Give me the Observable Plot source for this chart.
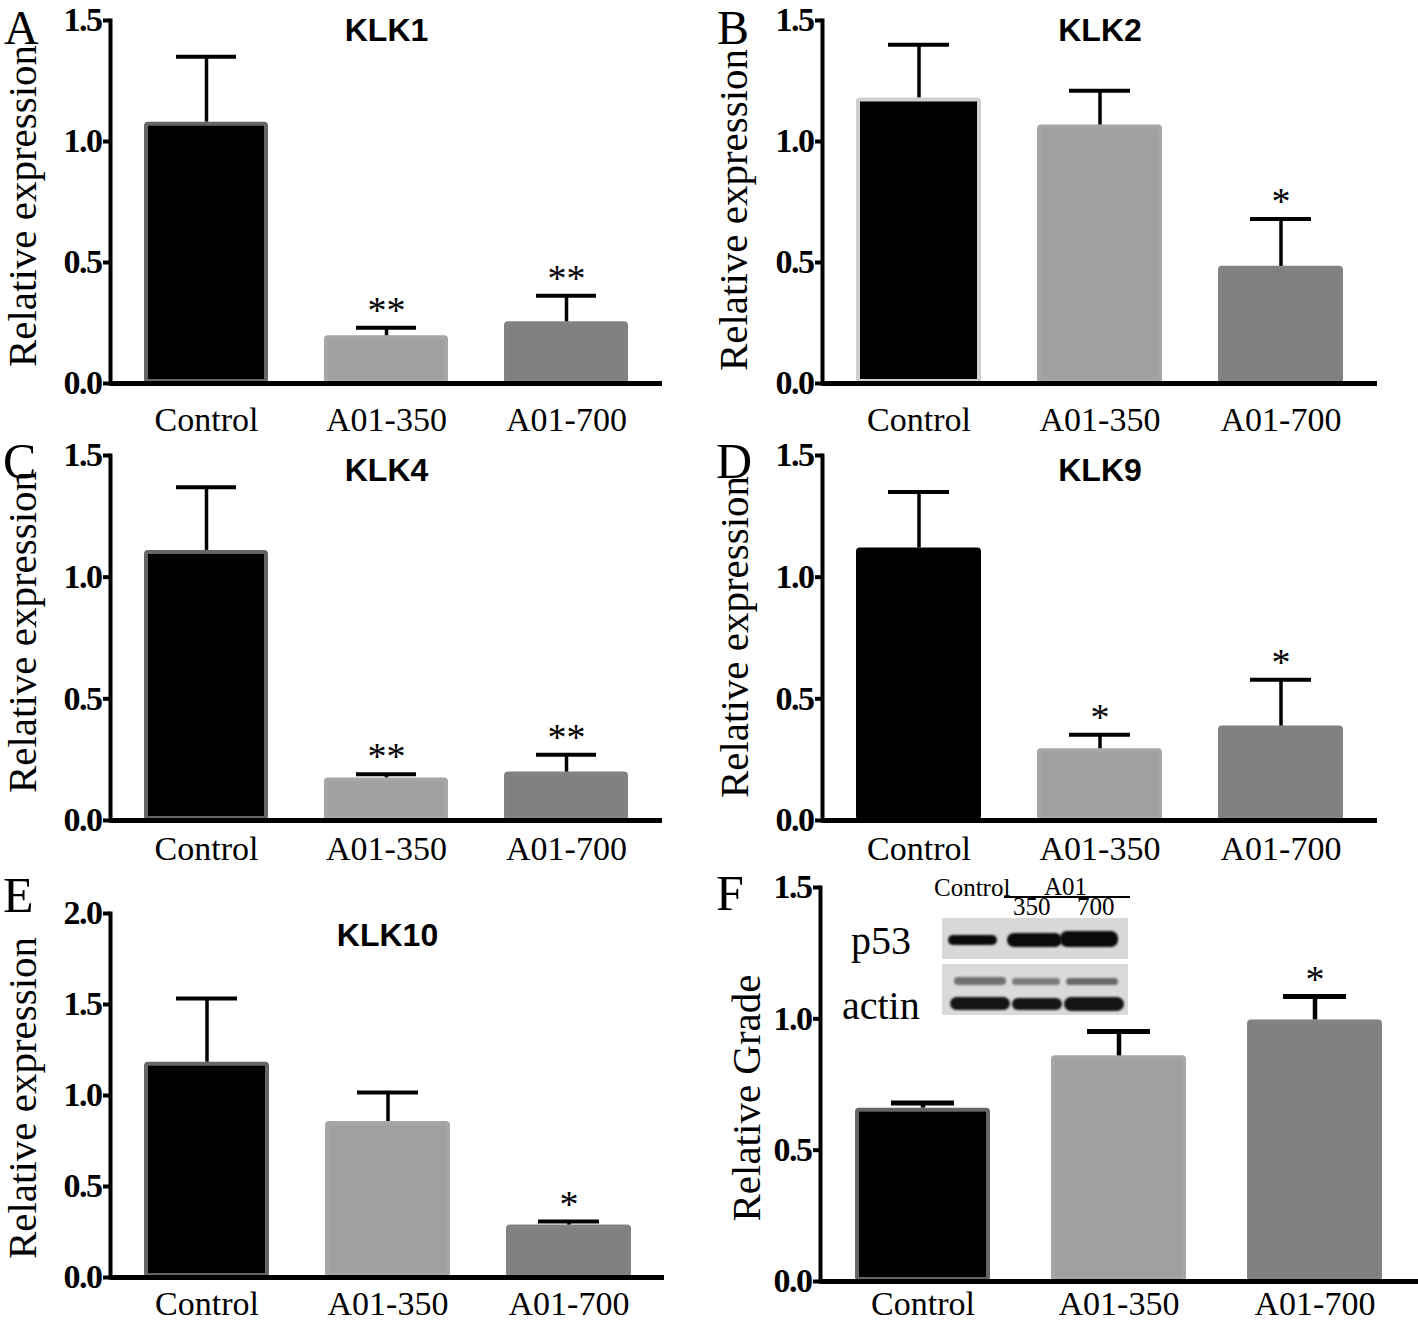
<!DOCTYPE html>
<html>
<head>
<meta charset="utf-8">
<script src="https://cdn.jsdelivr.net/npm/d3@7"></script>
<script src="https://cdn.jsdelivr.net/npm/@observablehq/plot@0.6"></script>
<style>
  body { margin: 0; background: #fff; }
  #fig { position: relative; width: 1418px; height: 1325px; overflow: hidden; background: #fff; }
  .panel { position: absolute; width: 709px; }
  .panel svg { overflow: visible; }
  .panel g[aria-label="y-axis tick label"] text { letter-spacing: -1.5px; }
  .lbl { position: absolute; font-family: "Liberation Serif", serif; line-height: 1; white-space: nowrap; color: #000; }
  .ylab { position: absolute; font-family: "Liberation Serif", serif; line-height: 1; white-space: nowrap; color: #000;
          writing-mode: vertical-rl; transform: translate(-50%, -50%) rotate(180deg); }
  .box { position: absolute; }
  .band { position: absolute; border-radius: 7px; filter: blur(1.2px); }
</style>
</head>
<body>
<div id="fig"></div>
<script>
// ---------- data ----------
const categories = ["Control", "A01-350", "A01-700"];
const yTicks15 = [0, 0.5, 1.0, 1.5];
const yTicks20 = [0, 0.5, 1.0, 1.5, 2.0];

const klk1Mean = [1.08, 0.197, 0.255];
const klk1Err  = [0.27, 0.033, 0.108];
const klk1Sig  = ["", "**", "**"];

const klk2Mean = [1.18, 1.068, 0.484];
const klk2Err  = [0.22, 0.142, 0.196];
const klk2Sig  = ["", "", "*"];

const klk4Mean = [1.11, 0.175, 0.199];
const klk4Err  = [0.26, 0.015, 0.071];
const klk4Sig  = ["", "**", "**"];

const klk9Mean = [1.12, 0.295, 0.388];
const klk9Err  = [0.23, 0.057, 0.19];
const klk9Sig  = ["", "*", "*"];

const klk10Mean = [1.183, 0.857, 0.288];
const klk10Err  = [0.35, 0.16, 0.02];
const klk10Sig  = ["", "", "*"];

const p53Mean = [0.66, 0.859, 0.996];
const p53Err  = [0.02, 0.093, 0.089];
const p53Sig  = ["", "", "*"];

// ---------- styles ----------
const barFills = ["#000000", "#a0a0a0", "#808080"];
const barStrokes = ["#666666", "#a6a6a6", "#828282"];

const fig = document.getElementById("fig");

function panel(o) {
  const data = categories.map((c, i) => ({
    cat: c, mean: o.mean[i], err: o.err[i], sig: o.sig[i],
    fill: barFills[i], stroke: i === 0 ? o.outline : barStrokes[i]
  }));
  const chart = Plot.plot({
    width: 709, height: o.height,
    marginLeft: o.ml, marginRight: o.mr, marginTop: o.mt, marginBottom: o.mb,
    style: { fontFamily: "Liberation Serif, serif", background: "transparent", overflow: "visible", color: "#000" },
    x: { domain: categories, paddingInner: 0.31, paddingOuter: 0.18, label: null },
    y: { domain: [0, o.ymax], label: null },
    color: { type: "identity" },
    marks: [
      Plot.barY(data, { x: "cat", y: "mean", fill: "fill", stroke: "stroke", strokeWidth: 4, inset: 2, rx: 2 }),
      Plot.ruleX(data, { x: "cat", y1: "mean", y2: d => d.mean + d.err, stroke: "#000", strokeWidth: o.ew }),
      Plot.tickY(data, { x: "cat", y: d => d.mean + d.err, stroke: "#000", strokeWidth: o.ew + 0.5, insetLeft: o.capInset, insetRight: o.capInset }),
      Plot.text(data, { x: "cat", y: d => d.mean + d.err, text: "sig", dy: -17, fontSize: 38, fontFamily: "Liberation Serif, serif" }),
      Plot.ruleY([0], { stroke: "#000", strokeWidth: 5 }),
      Plot.frame({ anchor: "left", stroke: "#000", strokeWidth: 4 }),
      Plot.axisY({ ticks: o.ticks, tickFormat: d3.format(".1f"), tickSize: 7, tickPadding: 2, strokeWidth: 4,
                   fontSize: 34, fontWeight: "bold", label: null }),
      Plot.axisX({ tickSize: 0, tickPadding: o.xpad, fontSize: 34, label: null }),
      Plot.text([o.title], { frameAnchor: "top", dy: o.titleDy, fontSize: 32, fontWeight: "bold",
                             fontFamily: "Liberation Sans, Arial, sans-serif" })
    ]
  });
  const div = document.createElement("div");
  div.className = "panel";
  div.style.left = o.left + "px";
  div.style.top = o.top + "px";
  div.appendChild(chart);
  fig.appendChild(div);

  const yl = document.createElement("div");
  yl.className = "ylab";
  yl.textContent = o.ylabel;
  yl.style.left = o.ylx + "px";
  yl.style.top = o.yly + "px";
  yl.style.fontSize = "41px";
  fig.appendChild(yl);
}

function label(text, left, baseline, size, extra) {
  const s = document.createElement("div");
  s.className = "lbl";
  s.textContent = text;
  s.style.left = left + "px";
  s.style.top = (baseline - 0.8375 * size) + "px";
  s.style.fontSize = size + "px";
  if (extra) Object.assign(s.style, extra);
  fig.appendChild(s);
  return s;
}

const RE = "Relative expression";

panel({ left: 0,   top: 0,   height: 440, ml: 110, mr: 47, mt: 20, mb: 57, ymax: 1.5, ticks: yTicks15,
        mean: klk1Mean, err: klk1Err, sig: klk1Sig, outline: "#666666", title: "KLK1", titleDy: -2,
        ylabel: RE, ylx: 22, yly: 206, xpad: 23, ew: 3.5, capInset: 32 });
panel({ left: 709, top: 0,   height: 440, ml: 113, mr: 41, mt: 20, mb: 57, ymax: 1.5, ticks: yTicks15,
        mean: klk2Mean, err: klk2Err, sig: klk2Sig, outline: "#d0d0d0", title: "KLK2", titleDy: -2,
        ylabel: RE, ylx: 733, yly: 210, xpad: 23, ew: 3.5, capInset: 32 });
panel({ left: 0,   top: 440, height: 430, ml: 110, mr: 47, mt: 15, mb: 50, ymax: 1.5, ticks: yTicks15,
        mean: klk4Mean, err: klk4Err, sig: klk4Sig, outline: "#666666", title: "KLK4", titleDy: 3,
        ylabel: RE, ylx: 22, yly: 632, xpad: 15, ew: 3.5, capInset: 32 });
panel({ left: 709, top: 440, height: 430, ml: 113, mr: 41, mt: 15, mb: 50, ymax: 1.5, ticks: yTicks15,
        mean: klk9Mean, err: klk9Err, sig: klk9Sig, outline: "#000000", title: "KLK9", titleDy: 3,
        ylabel: RE, ylx: 734, yly: 637, xpad: 15, ew: 3.5, capInset: 32 });
panel({ left: 0,   top: 870, height: 455, ml: 110, mr: 45, mt: 43, mb: 48, ymax: 2.0, ticks: yTicks20,
        mean: klk10Mean, err: klk10Err, sig: klk10Sig, outline: "#666666", title: "KLK10", titleDy: 10,
        ylabel: RE, ylx: 22, yly: 1098, xpad: 13, ew: 3.5, capInset: 32 });
panel({ left: 709, top: 870, height: 455, ml: 111, mr: 0,  mt: 17, mb: 44, ymax: 1.5, ticks: yTicks15,
        mean: p53Mean, err: p53Err, sig: p53Sig, outline: "#666666", title: "", titleDy: 0,
        ylabel: "Relative Grade", ylx: 746, yly: 1098, xpad: 9, ew: 4.5, capInset: 36 });

// ---------- panel letters ----------
label("A", 4, 44, 48);
label("B", 717, 44, 48);
label("C", 3, 478, 50);
label("D", 716, 478, 50);
label("E", 3, 912, 50);
label("F", 716, 910, 50);

// ---------- western blot inset (panel F) ----------
label("Control", 934, 896, 25);
label("A01", 1044, 895, 25);
const rule = document.createElement("div");
rule.className = "box";
Object.assign(rule.style, { left: "1004px", top: "896px", width: "126px", height: "2px", background: "#000" });
fig.appendChild(rule);
label("350", 1013, 915, 25);
label("700", 1077, 915, 25);
label("p53", 851, 954, 40);
label("actin", 842, 1019, 40);

function box(l, t, w, h, bg) {
  const b = document.createElement("div");
  b.className = "box";
  Object.assign(b.style, { left: l + "px", top: t + "px", width: w + "px", height: h + "px", background: bg, overflow: "hidden" });
  fig.appendChild(b);
  return b;
}
function band(parent, l, t, w, h, color) {
  const b = document.createElement("div");
  b.className = "band";
  Object.assign(b.style, { left: l + "px", top: t + "px", width: w + "px", height: h + "px", background: color });
  parent.appendChild(b);
}
const p53Box = box(942, 918, 186, 41, "#d8d8d8");
band(p53Box, 6, 17, 49, 10, "#0a0a0a");
band(p53Box, 65, 15, 55, 14, "#0a0a0a");
band(p53Box, 118, 13, 58, 16, "#0a0a0a");
const actinBox = box(942, 964, 186, 51, "#dadada");
band(actinBox, 12, 13, 52, 8, "#707070");
band(actinBox, 70, 14, 48, 7, "#7a7a7a");
band(actinBox, 124, 14, 52, 7, "#6a6a6a");
band(actinBox, 8, 33, 60, 13, "#151515");
band(actinBox, 70, 34, 50, 12, "#151515");
band(actinBox, 122, 33, 60, 14, "#151515");
</script>
</body>
</html>
